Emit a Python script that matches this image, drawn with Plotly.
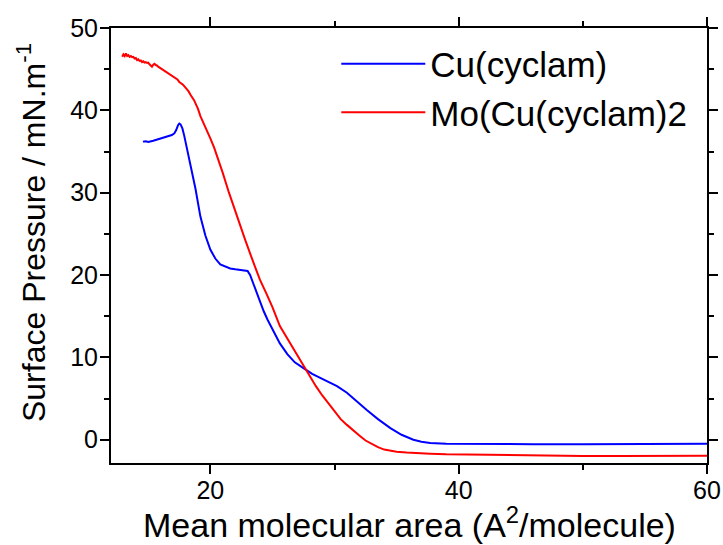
import plotly.graph_objects as go

# Cu(cyclam) isotherm
cu_x = [14.57, 14.8, 15.0, 15.2, 15.4, 15.6, 15.8, 16.0, 16.3, 16.6, 16.9, 17.1, 17.25, 17.4, 17.5,
        17.6, 17.75, 17.9, 18.1, 18.4, 18.8, 19.2, 19.6, 20.0, 20.4, 20.8, 21.2, 21.6, 22.0, 22.4,
        22.8, 23.0, 23.2, 23.4, 23.7, 24.0, 24.3, 24.6, 25.0, 25.6, 26.2, 26.8, 27.5, 28.2, 28.85,
        29.5, 30.2, 31.0, 31.8, 32.6, 33.5, 34.5, 35.4, 36.35, 37.0, 37.7, 39.0, 42.0, 46.0, 50.0,
        55.0, 60.0]
cu_y = [36.2, 36.25, 36.15, 36.2, 36.3, 36.4, 36.5, 36.6, 36.75, 36.85, 37.0, 37.2, 37.6, 38.2, 38.4,
        38.3, 37.8, 36.9, 35.5, 33.6, 30.5, 27.1, 24.8, 23.1, 22.0, 21.3, 21.0, 20.8, 20.7, 20.65,
        20.6, 20.5, 20.0, 19.2, 17.9, 16.6, 15.6, 14.6, 13.5, 11.7, 10.4, 9.4, 8.7, 8.0, 7.5,
        7.0, 6.5, 5.7, 4.6, 3.6, 2.5, 1.4, 0.6, 0.0, -0.25, -0.4, -0.5, -0.55, -0.55, -0.55,
        -0.52, -0.5]

# Mo(Cu(cyclam)2 isotherm
mo_x = [12.9, 13.0, 13.1, 13.2, 13.3, 13.4, 13.5, 13.6, 13.7, 13.8, 13.9, 14.0, 14.1, 14.2, 14.3,
        14.4, 14.5, 14.6, 14.7, 14.8, 14.9, 15.0, 15.1, 15.2, 15.3, 15.4, 15.5, 15.6, 15.7, 15.8,
        15.9, 16.0, 16.15, 16.3, 16.45, 16.6, 16.75, 16.9, 17.05, 17.2, 17.35, 17.5, 17.65, 17.8,
        17.95, 18.1, 18.25, 18.4, 18.55, 18.7, 18.85,
        19.0, 19.2, 19.6, 20.0, 20.3, 20.7, 21.0, 21.5, 21.9, 22.4, 22.8, 23.4, 24.0, 24.5, 25.0,
        25.6, 26.0, 26.5, 27.0, 27.5, 28.0, 28.5, 29.0, 29.5, 30.0, 30.5, 31.0, 31.5, 32.0, 32.5,
        33.0, 33.5, 34.0, 34.5, 35.0, 35.8, 36.5, 37.7, 39.0, 41.0, 44.0, 47.0, 50.0, 53.0, 56.0, 60.0]
mo_y = [46.5, 46.8, 46.6, 46.9, 46.6, 46.7, 46.5, 46.6, 46.45, 46.5, 46.3, 46.35, 46.1, 46.2, 46.0,
        46.05, 45.85, 45.95, 45.8, 45.85, 45.75, 45.8, 45.6, 45.5, 45.3, 45.55, 45.65, 45.5, 45.45, 45.3,
        45.2, 45.1, 45.0, 44.85, 44.7, 44.55, 44.4, 44.25, 44.1, 43.95, 43.75, 43.45, 43.3, 43.1,
        42.85, 42.6, 42.3, 41.9, 41.6, 41.2, 40.7,
        40.2, 39.3, 38.0, 36.6, 35.5, 33.8, 32.4, 30.0, 28.2, 26.0, 24.3, 21.8, 19.4, 17.8, 16.1,
        13.8, 12.8, 11.5, 10.2, 8.9, 7.7, 6.5, 5.4, 4.4, 3.4, 2.5, 1.8, 1.1, 0.5, -0.1,
        -0.55, -0.9, -1.2, -1.35, -1.45, -1.55, -1.63, -1.7, -1.78, -1.83, -1.9, -1.97, -1.98, -1.98, -1.96, -1.94]

x_ticks = [20, 40, 60]
y_ticks = [0, 10, 20, 30, 40, 50]
x_title = "Mean molecular area (A<sup>2</sup>/molecule)"
y_title = "Surface Pressure / mN.m<sup>-1</sup>"

FONT = "Arial, Liberation Sans, sans-serif"

fig = go.Figure()
fig.add_trace(go.Scatter(x=cu_x, y=cu_y, mode="lines", name="Cu(cyclam)",
                         line=dict(color="#0000FF", width=2)))
fig.add_trace(go.Scatter(x=mo_x, y=mo_y, mode="lines", name="Mo(Cu(cyclam)2",
                         line=dict(color="#FF0000", width=2)))

axis_common = dict(showline=True, linecolor="black", linewidth=2, mirror="ticks",
                   ticks="outside", ticklen=9, tickwidth=2, tickcolor="black",
                   showgrid=False, zeroline=False, automargin=False,
                   tickfont=dict(family=FONT, size=25, color="black"))

fig.update_xaxes(range=[12, 60], tickvals=x_ticks, ticktext=[str(v) for v in x_ticks],
                 ticklabelstandoff=-5,
                 minor=dict(dtick=10, ticks="outside", ticklen=5, tickwidth=2, tickcolor="black", showgrid=False),
                 **axis_common)
fig.update_yaxes(range=[-2.83, 50], tickvals=y_ticks, ticktext=[str(v) for v in y_ticks],
                 ticklabelstandoff=-3,
                 minor=dict(dtick=5, tick0=0, ticks="outside", ticklen=5, tickwidth=2, tickcolor="black", showgrid=False),
                 **axis_common)

fig.add_annotation(text=x_title, xref="paper", yref="paper", x=0.5, y=-0.137,
                   xanchor="center", yanchor="middle", showarrow=False,
                   font=dict(family=FONT, size=34, color="black"))
fig.add_annotation(text=y_title, xref="paper", yref="paper", x=-0.134, y=0.529,
                   xanchor="center", yanchor="middle", showarrow=False, textangle=-90,
                   font=dict(family=FONT, size=32, color="black"))

fig.update_layout(width=723, height=545, autosize=False,
                  margin=dict(l=111, r=16, t=28, b=82),
                  plot_bgcolor="white", paper_bgcolor="white",
                  showlegend=True,
                  legend=dict(x=0.378, y=0.985, xanchor="left", yanchor="top",
                              bgcolor="rgba(0,0,0,0)", borderwidth=0,
                              font=dict(family=FONT, size=35, color="black"),
                              itemwidth=84, tracegroupgap=0))

fig.write_html("out.html")
